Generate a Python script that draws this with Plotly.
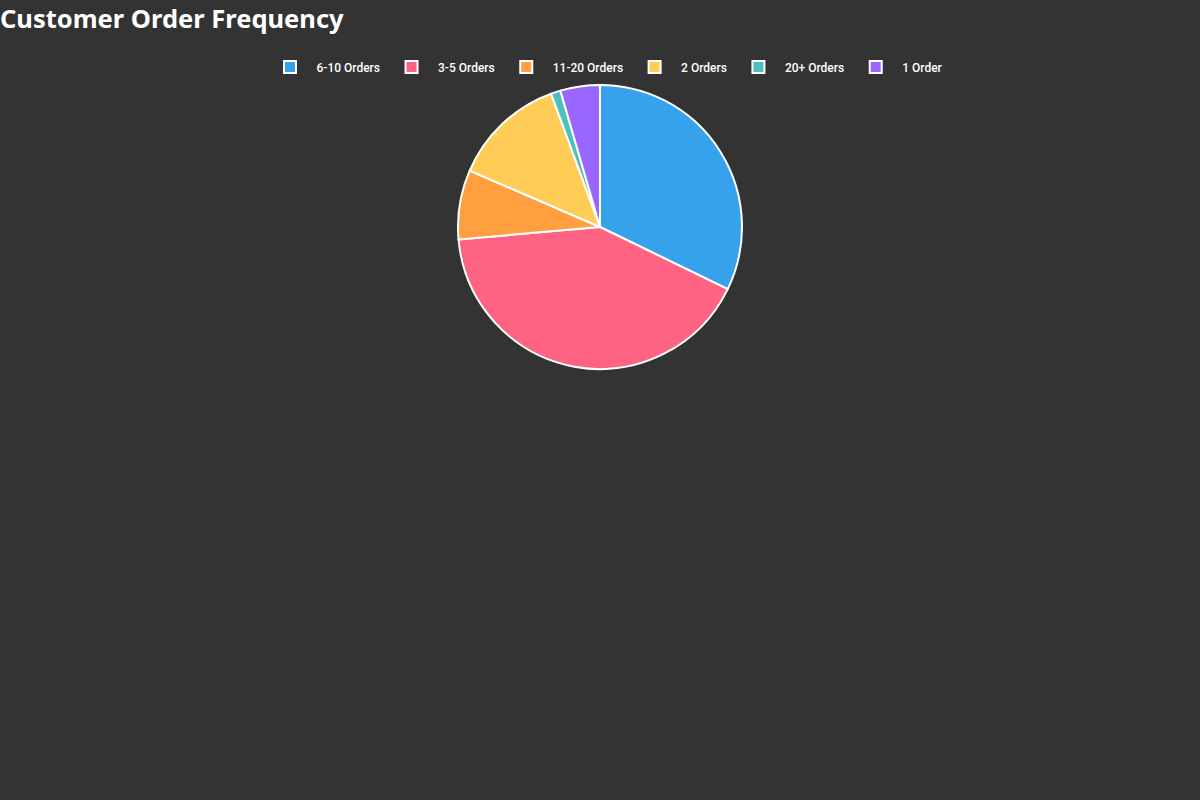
import plotly.graph_objects as go

labels = ["6-10 Orders", "3-5 Orders", "11-20 Orders", "2 Orders", "20+ Orders", "1 Order"]
values = [322, 414, 79, 129, 11, 45]
colors = ["#36A2EB", "#FF6384", "#FF9F40", "#FFCD56", "#4BC0C0", "#9966FF"]

W, H = 1200, 800
cx, cy, r = 600, 227, 142

fig = go.Figure(go.Pie(
    labels=labels,
    values=values,
    sort=False,
    direction="clockwise",
    rotation=0,
    textinfo="none",
    marker=dict(colors=colors, line=dict(color="#ffffff", width=2)),
    domain=dict(x=[(cx - r) / W, (cx + r) / W], y=[1 - (cy + r) / H, 1 - (cy - r) / H]),
))

fig.update_layout(
    width=W, height=H,
    paper_bgcolor="#333333",
    plot_bgcolor="#333333",
    margin=dict(l=0, r=0, t=0, b=0),
    title=dict(
        text="<b>Customer Order Frequency</b>",
        x=0, xanchor="left", xref="container",
        y=1 - 19 / H, yanchor="middle", yref="container",
        font=dict(family="Noto Sans, Open Sans, sans-serif", size=25.5, color="#ffffff"),
    ),
    legend=dict(
        orientation="h",
        x=0.505, xanchor="center",
        y=1 - 67 / H, yanchor="middle",
        font=dict(family="Roboto, sans-serif", size=12, color="#ffffff", weight=500),
        bgcolor="rgba(0,0,0,0)",
        traceorder="normal",
        itemwidth=43,
    ),
)

fig.write_html(
    "out.html",
    config={"displayModeBar": False},
    post_script="document.body.style.margin='0';document.body.style.background='#333333';document.documentElement.style.background='#333333';",
)
